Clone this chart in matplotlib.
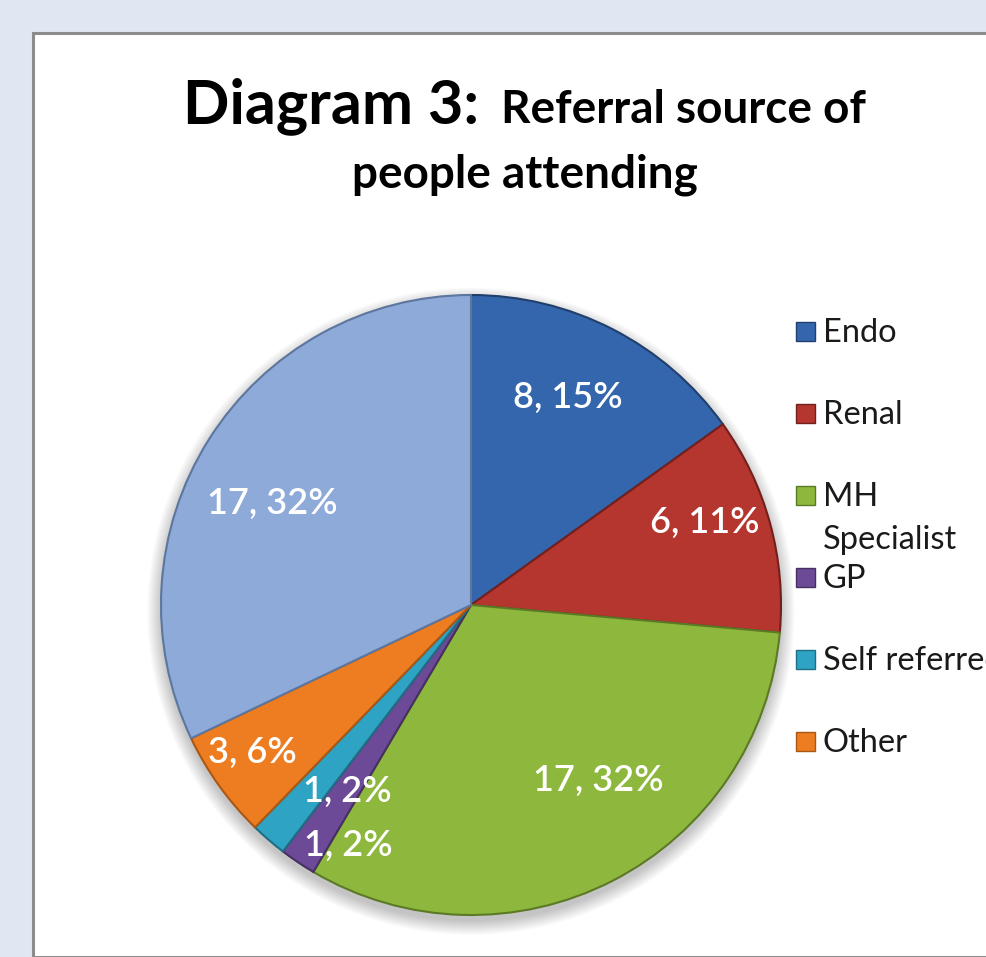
import matplotlib
matplotlib.use("Agg")
import matplotlib.pyplot as plt
from matplotlib.patches import Rectangle, Circle
import numpy as np

# ---- data ----
categories = ["Endo", "Renal", "MH\nSpecialist", "GP", "Self referred", "Other", ""]
values = [8, 6, 17, 1, 1, 3, 17]
colors = ["#3466ae", "#b5352f", "#8db83d", "#6c4a98", "#2fa3c3", "#ee7d22", "#8eaad9"]
edge_colors = ["#213f6c", "#73201d", "#5c7a26", "#45305f", "#1f6e84", "#a85814", "#5d769e"]

# label layout (radius fraction, angle deg) chosen to mimic the reference placement
label_pos = [(0.74, 65), (0.80, 19.5), (0.70, -54), (0.87, -117), (0.72, -123.5), (0.85, -146), (0.72, 153)]

W, H = 987, 957
fig = plt.figure(figsize=(W / 100, H / 100), dpi=100, facecolor="#dee7f2")

# white chart panel with grey border
panel = Rectangle((33 / W, 0), 1, 1 - 33 / H, transform=fig.transFigure,
                  facecolor="white", edgecolor="#8c8c8c", linewidth=2.2, zorder=-5)
fig.patches.append(panel)

# pie axes: center (471, 605) px from top, radius 310 px
R = 310
cx, cy = 471, H - 605
half = R * 1.1
ax = fig.add_axes([(cx - half) / W, (cy - half) / H, 2 * half / W, 2 * half / H])
ax.set_zorder(2)
ax.axis("off")

# soft shadow
for i in range(12):
    ax.add_patch(Circle((0.0, -0.02), 1.0 + 0.004 * i, color="#000000", alpha=0.018, zorder=0, lw=0))

total = sum(values)
wedges, _ = ax.pie(values, colors=colors, startangle=90, counterclock=False,
                   radius=1.0, wedgeprops=dict(linewidth=1.5))
for w, ec in zip(wedges, edge_colors):
    w.set_edgecolor(ec)
    w.set_zorder(2)
ax.set_xlim(-1.1, 1.1)
ax.set_ylim(-1.1, 1.1)
ax.set_aspect("equal")

for v, (r, a) in zip(values, label_pos):
    pct = round(100 * v / total)
    ax.text(r * np.cos(np.radians(a)), r * np.sin(np.radians(a)), f"{v}, {pct}%",
            ha="center", va="center", color="white", fontsize=26, family="Lato",
            fontweight="semibold", zorder=5)

# title
fig.text(183 / W, 1 - 123 / H, "Diagram 3:", fontsize=44, fontweight="bold",
         family="Lato", ha="left", va="baseline")
fig.text(866 / W, 1 - 123 / H, "Referral source of", fontsize=33, fontweight="bold",
         family="Lato", ha="right", va="baseline")
fig.text(525 / W, 1 - 187 / H, "people attending", fontsize=33, fontweight="bold",
         family="Lato", ha="center", va="baseline")

# legend (manual, Excel-like layout)
baseline = 342
step = 82
line_gap = 43
for k, (cat, col, ec) in enumerate(zip(categories, colors, edge_colors)):
    if not cat:
        continue
    yb = baseline + k * step
    fig.patches.append(Rectangle((796 / W, 1 - (yb - 1) / H), 19 / W, 19 / H,
                                 transform=fig.transFigure, facecolor=col,
                                 edgecolor=ec, linewidth=1, zorder=3))
    for j, line in enumerate(cat.split("\n")):
        fig.text(823 / W, 1 - (yb + j * line_gap) / H, line, fontsize=23.5,
                 family="Lato", ha="left", va="baseline", color="#1a1a1a")

fig.savefig("out.png", dpi=100, facecolor=fig.get_facecolor())
